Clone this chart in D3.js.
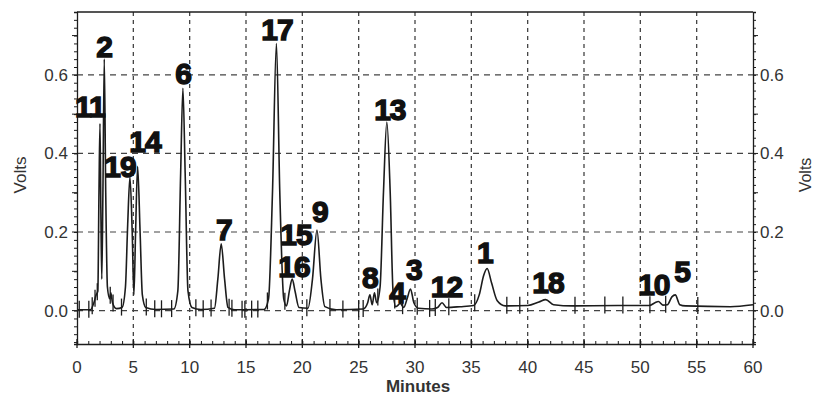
<!DOCTYPE html>
<html>
<head>
<meta charset="utf-8">
<script src="https://cdn.jsdelivr.net/npm/d3@7"></script>
<style>
  body { margin: 0; background: #fff; }
  svg text { font-family: "Liberation Sans", Arial, sans-serif; }
</style>
</head>
<body>
<div id="chart"></div>
<script>

// Chromatogram trace, [minutes, volts]
var trace = [
  [0, 0.002], [1.2, 0.002], [1.5, 0.02], [1.7, 0.04], [1.85, 0.05], [1.95, 0.3],
  [2.04, 0.476], [2.12, 0.25], [2.2, 0.08], [2.3, 0.3], [2.42, 0.64], [2.55, 0.3],
  [2.7, 0.06], [2.9, 0.03], [3.0, 0.045], [3.15, 0.02], [3.5, 0.005], [4.0, 0.008],
  [4.3, 0.06], [4.5, 0.22], [4.7, 0.34], [4.9, 0.2], [5.05, 0.04], [5.2, 0.2],
  [5.38, 0.367], [5.6, 0.2], [5.8, 0.04], [6.1, 0.008], [7, 0.003], [8.6, 0.004],
  [8.95, 0.05], [9.2, 0.35], [9.4, 0.566], [9.6, 0.35], [9.85, 0.05], [10.2, 0.008],
  [11, 0.003], [12.2, 0.006], [12.5, 0.08], [12.8, 0.17], [13.1, 0.08], [13.4, 0.008],
  [14, 0.002], [16.6, 0.003], [17.0, 0.03], [17.35, 0.3], [17.7, 0.68], [18.0, 0.3],
  [18.35, 0.03], [18.6, 0.012], [18.85, 0.05], [19.1, 0.08], [19.35, 0.05], [19.7, 0.008],
  [20.5, 0.006], [20.9, 0.08], [21.3, 0.205], [21.65, 0.08], [22.0, 0.01], [23, 0.002],
  [25.4, 0.004], [25.8, 0.02], [26.0, 0.04], [26.2, 0.015], [26.4, 0.045], [26.6, 0.02],
  [26.9, 0.06], [27.2, 0.3], [27.5, 0.48], [27.8, 0.3], [28.05, 0.05], [28.3, 0.01],
  [28.7, 0.018], [29.0, 0.008], [29.3, 0.03], [29.6, 0.055], [29.9, 0.02], [30.3, 0.006],
  [31.5, 0.004], [32.0, 0.008], [32.4, 0.02], [32.8, 0.008], [34, 0.01], [35.2, 0.013],
  [35.7, 0.04], [36.1, 0.09], [36.4, 0.107], [36.8, 0.07], [37.3, 0.025], [38, 0.012],
  [40, 0.013], [41.0, 0.022], [41.6, 0.028], [42.3, 0.015], [44, 0.012], [48, 0.013],
  [50.8, 0.013], [51.3, 0.02], [51.6, 0.023], [52, 0.014], [52.4, 0.015], [52.8, 0.035],
  [53.1, 0.04], [53.5, 0.015], [54, 0.012], [58, 0.01], [60, 0.015]
];

// Peak numbers and where their labels sit (minutes, volts)
var peakLabels = ['11', '2', '19', '14', '6', '7', '17', '15', '16', '9',
                  '13', '8', '4', '3', '12', '1', '18', '10', '5'];
var labelMinutes = [1.15, 2.4, 3.82, 6.04, 9.41, 13.04, 17.75, 19.43, 19.26, 21.56,
                    27.77, 26.0, 28.4, 29.9, 32.8, 36.2, 41.8, 51.2, 53.7];
var labelVolts = [0.492, 0.645, 0.34, 0.403, 0.576, 0.179, 0.688, 0.167, 0.085, 0.225,
                  0.485, 0.057, 0.019, 0.077, 0.034, 0.121, 0.045, 0.039, 0.072];

// Integration marks (minutes)
var markers = [0.2, 1.05, 1.35, 1.6, 1.8, 2.95, 3.2, 3.95, 6.15, 6.9, 7.5, 8.4,
               10.55, 11.2, 11.9, 13.5, 13.75, 14.65, 14.9, 15.5, 16.05, 16.9, 18.45,
               20.4, 22.45, 23.6, 25.0, 25.4, 26.7, 28.2, 28.9, 30.2, 31.3, 31.8, 33.0,
               35.3, 38.15, 39.3, 44.2, 46.85, 48.45, 50.85, 52.25, 55.1];

var xTicks = [0, 5, 10, 15, 20, 25, 30, 35, 40, 45, 50, 55, 60];
var yTicks = [0.0, 0.2, 0.4, 0.6];

var svgWidth = 815;
var svgHeight = 395;

var svg = d3.select('#chart').append('svg')
  .attr('width', svgWidth)
  .attr('height', svgHeight);

var x = d3.scaleLinear().domain([0, 60]).range([77, 753]);
var y = d3.scaleLinear().domain([-0.085, 0.76]).range([344, 12]);

var ink = '#1c1c1c';

// grid
svg.selectAll('.vgrid')
  .data(xTicks.slice(1, -1))
  .enter().append('line')
  .attr('x1', function(d) { return x(d); })
  .attr('x2', function(d) { return x(d); })
  .attr('y1', y.range()[1])
  .attr('y2', y.range()[0])
  .attr('stroke', '#444')
  .attr('stroke-width', 1.3)
  .attr('stroke-dasharray', '4,4');

svg.selectAll('.hgrid')
  .data(yTicks)
  .enter().append('line')
  .attr('x1', x(0))
  .attr('x2', x(60))
  .attr('y1', function(d) { return y(d); })
  .attr('y2', function(d) { return y(d); })
  .attr('stroke', '#444')
  .attr('stroke-width', 1.2)
  .attr('stroke-dasharray', '6,5');

// axes
var leftAxis = d3.axisLeft(y)
  .tickValues(d3.range(-0.08, 0.761, 0.02))
  .tickSize(3)
  .tickFormat('');
var rightAxis = d3.axisRight(y)
  .tickValues(d3.range(-0.08, 0.761, 0.02))
  .tickSize(3)
  .tickFormat('');
var bottomAxis = d3.axisTop(x)
  .tickValues(d3.range(0, 61, 1))
  .tickSize(3)
  .tickFormat('');

function styleAxis(g) {
  g.selectAll('path').attr('stroke', ink).attr('stroke-width', 1.3);
  g.selectAll('line').attr('stroke', ink).attr('stroke-width', 1);
}

svg.append('g').attr('transform', 'translate(' + x(0) + ',0)').call(leftAxis).call(styleAxis);
svg.append('g').attr('transform', 'translate(' + x(60) + ',0)').call(rightAxis).call(styleAxis);
svg.append('g').attr('transform', 'translate(0,' + y(-0.085) + ')').call(bottomAxis).call(styleAxis);

// top frame line
svg.append('line')
  .attr('x1', x(0)).attr('x2', x(60))
  .attr('y1', y(0.76)).attr('y2', y(0.76))
  .attr('stroke', ink).attr('stroke-width', 1.3);

// major ticks
svg.selectAll('.lmaj')
  .data(d3.range(0, 0.71, 0.1))
  .enter().append('line')
  .attr('x1', x(0) - 5).attr('x2', x(0))
  .attr('y1', function(d) { return y(d); })
  .attr('y2', function(d) { return y(d); })
  .attr('stroke', ink);
svg.selectAll('.rmaj')
  .data(d3.range(0, 0.71, 0.1))
  .enter().append('line')
  .attr('x1', x(60)).attr('x2', x(60) + 5)
  .attr('y1', function(d) { return y(d); })
  .attr('y2', function(d) { return y(d); })
  .attr('stroke', ink);
svg.selectAll('.bmaj')
  .data(xTicks)
  .enter().append('line')
  .attr('x1', function(d) { return x(d); })
  .attr('x2', function(d) { return x(d); })
  .attr('y1', y(-0.085) - 5).attr('y2', y(-0.085) + 4)
  .attr('stroke', ink).attr('stroke-width', 1.3);

// tick labels
var fmt = d3.format('.1f');
svg.selectAll('.ylabL')
  .data(yTicks)
  .enter().append('text')
  .attr('x', 68)
  .attr('y', function(d) { return y(d) + 6; })
  .attr('text-anchor', 'end')
  .attr('font-size', 17)
  .attr('fill', '#333')
  .text(fmt);
svg.selectAll('.ylabR')
  .data(yTicks)
  .enter().append('text')
  .attr('x', 760)
  .attr('y', function(d) { return y(d) + 6; })
  .attr('text-anchor', 'start')
  .attr('font-size', 17)
  .attr('fill', '#333')
  .text(fmt);
svg.selectAll('.xlab')
  .data(xTicks)
  .enter().append('text')
  .attr('x', function(d) { return x(d); })
  .attr('y', 373)
  .attr('text-anchor', 'middle')
  .attr('font-size', 17)
  .attr('fill', '#333')
  .text(function(d) { return d; });

svg.append('text')
  .attr('x', 418).attr('y', 392)
  .attr('text-anchor', 'middle')
  .attr('font-size', 17)
  .attr('font-weight', 'bold')
  .attr('fill', '#333')
  .text('Minutes');

svg.append('text')
  .attr('transform', 'translate(26,175) rotate(-90)')
  .attr('text-anchor', 'middle')
  .attr('font-size', 17)
  .attr('fill', '#333')
  .text('Volts');
svg.append('text')
  .attr('transform', 'translate(811,175) rotate(-90)')
  .attr('text-anchor', 'middle')
  .attr('font-size', 16)
  .attr('fill', '#333')
  .text('Volts');

// the trace
var line = d3.line()
  .x(function(d) { return x(d[0]); })
  .y(function(d) { return y(d[1]); })
  .curve(d3.curveMonotoneX);

svg.append('path')
  .datum(trace)
  .attr('d', line)
  .attr('fill', 'none')
  .attr('stroke', ink)
  .attr('stroke-width', 1.6);

// integration marks sit on the trace
var bisect = d3.bisector(function(d) { return d[0]; }).left;
function traceAt(t) {
  var i = bisect(trace, t);
  if (i <= 0) return trace[0][1];
  if (i >= trace.length) return trace[trace.length - 1][1];
  var a = trace[i - 1], b = trace[i];
  return a[1] + (b[1] - a[1]) * (t - a[0]) / (b[0] - a[0]);
}

svg.selectAll('.marker')
  .data(markers)
  .enter().append('line')
  .attr('x1', function(d) { return x(d); })
  .attr('x2', function(d) { return x(d); })
  .attr('y1', function(d) { return y(traceAt(d)) - 9; })
  .attr('y2', function(d) { return y(traceAt(d)) + 8; })
  .attr('stroke', ink)
  .attr('stroke-width', 1.3);

// peak numbers
svg.selectAll('.peak')
  .data(peakLabels)
  .enter().append('text')
  .attr('x', function(d, i) { return x(labelMinutes[i]); })
  .attr('y', function(d, i) { return y(labelVolts[i]); })
  .attr('text-anchor', 'middle')
  .attr('font-size', 30)
  .attr('font-weight', 'bold')
  .attr('letter-spacing', -1)
  .attr('fill', '#111')
  .attr('stroke', '#111')
  .attr('stroke-width', 1.4)
  .text(function(d) { return d; });

</script>
</body>
</html>
